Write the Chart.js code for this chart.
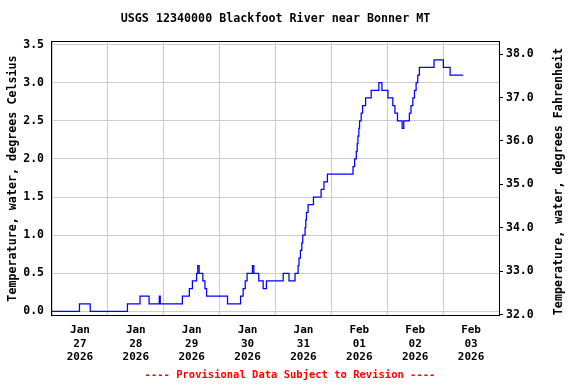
<!DOCTYPE html>
<html lang="en">
<head>
<meta charset="UTF-8">
<title>USGS 12340000 Blackfoot River near Bonner MT</title>
<script src="https://cdn.jsdelivr.net/npm/chart.js@4.4.1/dist/chart.umd.min.js"></script>
<style>
  html, body { margin: 0; padding: 0; background: #fff; }
  canvas { display: block; }
</style>
</head>
<body>
<canvas id="chart" width="576" height="384"></canvas>
<script>
const chartTitle = 'USGS 12340000 Blackfoot River near Bonner MT';
const footerText = '---- Provisional Data Subject to Revision ----';
const leftTitle = 'Temperature, water, degrees Celsius';
const rightTitle = 'Temperature, water, degrees Fahrenheit';

// hours since Jan 27 2026 00:00 where the reading changes, and the new value (deg C)
const hours = [0, 11.8, 16.4, 32.4, 37.8, 41.7, 46.1, 46.5, 56.0, 59.0, 60.3, 62.1, 62.6, 63.2, 64.8, 65.7, 66.4,
  75.4, 81.0, 82.1, 83.0, 83.8, 86.1, 86.7, 88.8, 90.7, 92.1, 99.3, 101.8, 104.4, 105.7, 106.1, 106.7, 107.3,
  107.7, 108.7, 109.0, 109.3, 110.0, 112.3, 115.6, 116.8, 118.3, 129.3, 130.0, 130.7, 131.1, 131.4, 131.8,
  132.1, 132.8, 133.4, 134.7, 137.1, 140.4, 141.7, 144.3, 146.4, 147.3, 148.4, 150.4, 151.1, 153.5, 154.2,
  155.0, 155.7, 156.4, 157.1, 157.8, 164.1, 168.1, 171.0, 176.6];
const tempC = [0.0, 0.1, 0.0, 0.1, 0.2, 0.1, 0.2, 0.1, 0.2, 0.3, 0.4, 0.5, 0.6, 0.5, 0.4, 0.3, 0.2,
  0.1, 0.2, 0.3, 0.4, 0.5, 0.6, 0.5, 0.4, 0.3, 0.4, 0.5, 0.4, 0.5, 0.6, 0.7, 0.8, 0.9,
  1.0, 1.1, 1.2, 1.3, 1.4, 1.5, 1.6, 1.7, 1.8, 1.9, 2.0, 2.1, 2.2, 2.3, 2.4,
  2.5, 2.6, 2.7, 2.8, 2.9, 3.0, 2.9, 2.8, 2.7, 2.6, 2.5, 2.4, 2.5, 2.6, 2.7,
  2.8, 2.9, 3.0, 3.1, 3.2, 3.3, 3.2, 3.1, 3.1];

const dayLabels = [['Jan', '27', '2026'], ['Jan', '28', '2026'], ['Jan', '29', '2026'], ['Jan', '30', '2026'],
  ['Jan', '31', '2026'], ['Feb', '01', '2026'], ['Feb', '02', '2026'], ['Feb', '03', '2026']];
const celsiusTicks = [0, 0.5, 1.0, 1.5, 2.0, 2.5, 3.0, 3.5];
const fahrenheitTicks = [32, 33, 34, 35, 36, 37, 38];

const mono = '"DejaVu Sans Mono", monospace';
Chart.defaults.font.family = mono;
Chart.defaults.font.weight = 'bold';
Chart.defaults.color = '#000';

// frame, title, footer and the right-hand axis title
const extras = {
  id: 'extras',
  afterDraw(chart) {
    const { ctx, chartArea: a } = chart;
    ctx.save();
    ctx.strokeStyle = '#000';
    ctx.lineWidth = 1;
    ctx.strokeRect(a.left - 0.5, a.top - 0.5, a.right - a.left + 1, a.bottom - a.top + 1);

    ctx.fillStyle = '#000';
    ctx.textAlign = 'center';
    ctx.textBaseline = 'middle';
    ctx.font = 'bold 11.7px ' + mono;
    ctx.fillText(chartTitle, (a.left + a.right) / 2, 19);

    ctx.fillStyle = '#f00';
    ctx.font = 'bold 10.5px ' + mono;
    ctx.fillText(footerText, 290, 375);

    ctx.fillStyle = '#000';
    ctx.font = 'bold 11.7px ' + mono;
    ctx.translate(559, (a.top + a.bottom) / 2 + 3);
    ctx.rotate(-Math.PI / 2);
    ctx.fillText(rightTitle, 0, 0);
    ctx.restore();
  }
};

new Chart(document.getElementById('chart'), {
  type: 'line',
  data: {
    datasets: [{
      data: hours.map((h, i) => ({ x: h, y: tempC[i] })),
      borderColor: '#0000ff',
      borderWidth: 1.25,
      stepped: true,
      pointRadius: 0,
      fill: false,
      yAxisID: 'y'
    }, {
      data: [],
      yAxisID: 'yF'
    }]
  },
  options: {
    responsive: false,
    animation: false,
    devicePixelRatio: 1,
    layout: { padding: { top: 42, bottom: 9, left: 0, right: 0 } },
    plugins: { legend: { display: false }, tooltip: { enabled: false } },
    scales: {
      x: {
        type: 'linear',
        min: 0,
        max: 192,
        afterFit: s => { s.height = 60; },
        afterBuildTicks: s => { s.ticks = Array.from({ length: 17 }, (_, i) => ({ value: i * 12 })); },
        border: { display: false },
        grid: {
          drawTicks: false,
          color: c => (c.tick && c.tick.value % 24 === 0) ? '#cccccc' : 'rgba(0,0,0,0)'
        },
        ticks: {
          autoSkip: false,
          maxRotation: 0,
          padding: 9,
          font: { size: 11, lineHeight: 1.2 },
          callback: v => (v % 24 === 12) ? dayLabels[(v - 12) / 24] : ''
        }
      },
      y: {
        position: 'left',
        min: -0.046,
        max: 3.533,
        afterFit: s => { s.width = 52; },
        afterBuildTicks: s => { s.ticks = celsiusTicks.map(v => ({ value: v })); },
        border: { display: false },
        grid: { drawTicks: false, color: '#cccccc' },
        ticks: { padding: 8, font: { size: 11.5 }, callback: v => v.toFixed(1) },
        title: { display: true, text: leftTitle, font: { size: 11.7 }, padding: { top: 6, bottom: 0 } }
      },
      yF: {
        position: 'right',
        min: 31.99,
        max: 38.28,
        afterFit: s => { s.width = 77; },
        afterBuildTicks: s => { s.ticks = fahrenheitTicks.map(v => ({ value: v })); },
        border: { display: false },
        grid: { drawOnChartArea: false, drawTicks: true, tickLength: 4, tickColor: '#000', color: '#000' },
        ticks: { padding: 3, font: { size: 11.5 }, callback: v => v.toFixed(1) }
      }
    }
  },
  plugins: [extras]
});
</script>
</body>
</html>
